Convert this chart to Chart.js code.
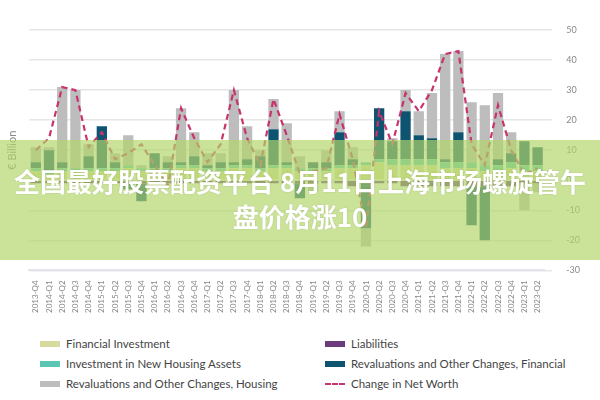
<!DOCTYPE html>
<html><head><meta charset="utf-8">
<script src="https://cdn.jsdelivr.net/npm/chart.js@4/dist/chart.umd.min.js"></script>
<style>
body{margin:0;width:600px;height:400px;background:#fff;font-family:Lato,"Open Sans",sans-serif;position:relative;overflow:hidden}
#wrap{position:absolute;left:0;top:0;width:600px;height:315px}
#banner{position:absolute;left:0;top:140px;width:600px;height:120px;background:rgba(178,214,104,0.68);color:#fff;font-family:"Noto Sans CJK SC";font-weight:bold;font-size:26px;text-align:center;line-height:35px;padding-top:23px;box-sizing:border-box;white-space:nowrap;text-shadow:0 0 2px rgba(0,0,0,0.15)}
.lg{position:absolute;font-size:11.5px;color:#444;display:flex;align-items:center}
.sw{width:20px;height:6px;margin-right:6px}
.ln{width:20px;height:0;border-top:2px dashed #c8326e;margin-right:6px}
</style></head><body>
<div id="wrap"><canvas id="c" width="600" height="315"></canvas></div>
<div id="banner">全国最好股票配资平台 8月11日上海市场螺旋管午<br>盘价格涨10</div>
<div class="lg" style="left:40px;top:337px"><div class="sw" style="background:#d7dc9e"></div>Financial Investment</div>
<div class="lg" style="left:40px;top:357px"><div class="sw" style="background:#5cc6b5"></div>Investment in New Housing Assets</div>
<div class="lg" style="left:40px;top:377px"><div class="sw" style="background:#bdbdbd"></div>Revaluations and Other Changes, Housing</div>
<div class="lg" style="left:325px;top:337px"><div class="sw" style="background:#6b3b7d"></div>Liabilities</div>
<div class="lg" style="left:325px;top:357px"><div class="sw" style="background:#0e5470"></div>Revaluations and Other Changes, Financial</div>
<div class="lg" style="left:325px;top:377px"><div class="ln"></div>Change in Net Worth</div>
<script>
const quarters=["2013-Q4","2014-Q1","2014-Q2","2014-Q3","2014-Q4","2015-Q1","2015-Q2","2015-Q3","2015-Q4","2016-Q1","2016-Q2","2016-Q3","2016-Q4","2017-Q1","2017-Q2","2017-Q3","2017-Q4","2018-Q1","2018-Q2","2018-Q3","2018-Q4","2019-Q1","2019-Q2","2019-Q3","2019-Q4","2020-Q1","2020-Q2","2020-Q3","2020-Q4","2021-Q1","2021-Q2","2021-Q3","2021-Q4","2022-Q1","2022-Q2","2022-Q3","2022-Q4","2023-Q1","2023-Q2"];
const financialInvestment=[3,2,3,3,3,3,3,4,3,3,3,4,4,3,3,4,4,3,4,4,3,3,3,4,4,5,6,5,5,5,5,4,4,4,3,3,4,3,3];
const housingInvestment=[1,1,1,1,1,1,1,1,1,1,1,1,1,1,1,1,1,1,1,1,1,1,1,1,1,1,1,2,2,2,2,2,2,2,2,2,2,2,2];
const liabilities=[-1,-1,-1,-1,-1,-1,-1,-1,-1,-1,-1,-1,-1,-1,-1,-1,-1,-1,-1,-1,-1,-1,-1,-1,-2,-1,-1,-1,-2,-2,-2,-2,-2,-2,-2,-2,-2,-1,-1];
const revalFinancial=[2,7,2,0,4,14,2,-2,-6,5,2,1,3,1,2,1,2,4,12,1,-5,2,2,11,2,-15,17,6,16,8,7,1,10,-13,-18,2,3,8,6];
const revalHousing=[5,1,25,26,4,0,3,10,1,0,2,18,8,4,3,24,11,2,10,13,4,-3,4,7,4,-6,0,1,7,8,15,35,27,20,20,22,7,-9,-3];
const netWorth=[10,14,31,30,11,16,7,9,12,5,-2,24,14,6,12,30,14,5,27,15,2,3,4,22,7,-16,23,12,29,23,30,42,43,12,5,25,10,2,4];
const yTicks=[50,40,30,20,10,0,-10,-20,-30];
const bar=(label,data,color)=>({type:'bar',label,data,backgroundColor:color,stack:'s',barPercentage:0.78,categoryPercentage:1,order:2});
new Chart(document.getElementById('c'),{
 data:{labels:quarters,datasets:[
  {type:'line',label:'Change in Net Worth',data:netWorth,borderColor:'#c8326e',borderWidth:2.2,borderDash:[6,4],pointRadius:0,tension:0,order:1},
  bar('Financial Investment',financialInvestment,'#d7dc9e'),
  bar('Investment in New Housing Assets',housingInvestment,'#5cc6b5'),
  bar('Liabilities',liabilities,'#6b3b7d'),
  bar('Revaluations and Other Changes, Financial',revalFinancial,'#0e5470'),
  bar('Revaluations and Other Changes, Housing',revalHousing,'#bdbdbd')
 ]},
 options:{responsive:false,animation:false,
  layout:{padding:{top:30,left:2,right:6}},
  plugins:{legend:{display:false},tooltip:{enabled:false}},
  scales:{
   x:{stacked:true,grid:{display:false},border:{color:'#e4e4f0',width:2},
      ticks:{font:{size:8,family:'Lato'},color:'#888',maxRotation:90,minRotation:90,autoSkip:false,padding:2}},
   y:{stacked:true,position:'right',min:-30,max:50,afterBuildTicks:a=>{a.ticks=yTicks.map(v=>({value:v}))},
      grid:{color:'#e6e6e6',lineWidth:1.5},border:{display:false},
      ticks:{font:{size:9,family:'Lato'},color:'#888',padding:14}},
   y2:{position:'left',min:-30,max:50,grid:{display:false},border:{display:false},ticks:{display:false},
      title:{display:true,text:'€ Billion',color:'#888',font:{size:11,family:'Lato'},padding:{top:4,bottom:2}}}
  }}
});
</script></body></html>
